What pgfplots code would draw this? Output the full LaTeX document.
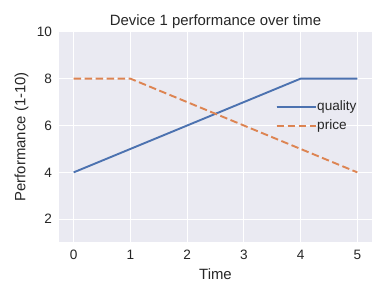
\documentclass[border=0pt]{standalone}
\usepackage{pgfplots}
\pgfplotsset{compat=1.18}
\usepackage{fontspec}
\setmainfont{Liberation Sans}
\definecolor{bgc}{HTML}{EAEAF2}
\definecolor{txt}{HTML}{262626}
\definecolor{sblue}{HTML}{4C72B0}
\definecolor{sorange}{HTML}{DD8452}
\begin{document}
\begin{tikzpicture}
\useasboundingbox (-59.5pt,-56.3pt) rectangle (327.5pt,241.7pt);
\begin{axis}[
  at={(0pt,0pt)}, anchor=south west,
  scale only axis, width=312pt, height=209.9pt,
  xmin=-0.25, xmax=5.25, ymin=1.04, ymax=10,
  xtick={0,1,2,3,4,5}, ytick={2,4,6,8,10},
  axis background/.style={fill=bgc},
  axis line style={draw=none},
  major tick length=0pt,
  grid=major,
  major grid style={draw=white, line width=1.1pt},
  /pgf/number format/assume math mode=true,
  ticklabel style={font=\fontsize{13.6}{16}\selectfont, text=txt},
  xticklabel style={yshift=-5pt},
  yticklabel style={xshift=-4pt},
  title={Device 1 performance over time},
  title style={font=\fontsize{14.9}{17}\selectfont, text=txt, yshift=-6pt},
  xlabel={Time}, ylabel={Performance (1-10)},
  label style={font=\fontsize{14.9}{17}\selectfont, text=txt},
  xlabel style={yshift=-2pt},
  ylabel style={yshift=1.5pt},
  legend style={draw=none, fill=none, at={(0.692,0.5965)}, anchor=west,
    inner sep=0pt, font=\fontsize{13.6}{16}\selectfont, text=txt,
    row sep=5.4pt,
    nodes={inner sep=0pt, text height=10pt, text depth=3pt}},
  legend cell align=left,
  legend image code/.code={\draw[#1, line width=1.9pt] (0pt,0pt) -- (29pt,0pt);
    \path (0pt,0pt) -- (39.7pt,0pt);},
]
\addplot[sblue, line width=1.9pt] coordinates {(0,4) (1,5) (2,6) (3,7) (4,8) (5,8)};
\addlegendentry{quality}
\addplot[sorange, line width=1.9pt, dash pattern=on 7.5pt off 3.5pt] coordinates {(0,8) (1,8) (2,7) (3,6) (4,5) (5,4)};
\addlegendentry{price}
\end{axis}
\end{tikzpicture}
\end{document}
